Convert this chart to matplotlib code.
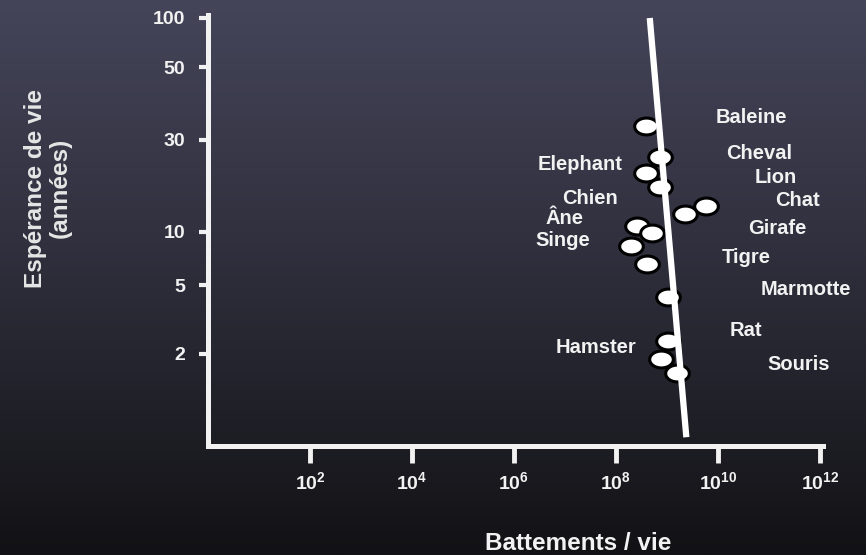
import numpy as np
import matplotlib
matplotlib.use('Agg')
import matplotlib.pyplot as plt
from matplotlib.path import Path
from matplotlib.colors import LinearSegmentedColormap
import matplotlib.ticker as mticker

# data
beats = [3.8e8, 7.4e8, 3.8e8, 7.2e8, 5.8e9, 2.3e9, 2.6e8,
         5.1e8, 2.0e8, 4.0e8, 1.07e9, 1.07e9, 7.8e8, 1.6e9]
life = [33, 24.5, 20.2, 17.1, 13.6, 12.4, 10.7,
        9.9, 8.3, 6.6, 4.26, 2.38, 1.87, 1.55]

# trend line end points
line_x = [4.6e8, 2.4e9]
line_y = [100, 0.66]

animals = ['Baleine', 'Cheval', 'Lion', 'Chat', 'Girafe', 'Tigre', 'Marmotte',
           'Rat', 'Souris', 'Elephant', 'Chien', 'Âne', 'Singe', 'Hamster']
label_xexp = [10.66, 10.81, 11.13, 11.56, 11.16, 10.56, 11.73,
              10.54, 11.59, 7.29, 7.49, 7.0, 6.96, 7.60]
label_y = [35, 25.4, 19.1, 14.5, 10.4, 7.2, 4.74,
           2.72, 1.73, 22.5, 15.0, 11.8, 9.0, 2.17]

xticks = [1e2, 1e4, 1e6, 1e8, 1e10, 1e12]
xticklabels = [r'$\mathbf{10^{%d}}$' % e for e in [2, 4, 6, 8, 10, 12]]
yticks = [2, 5, 10, 30, 50, 100]

# the hand drawn y ruler: log10(value) -> height above the x axis
ruler_log = np.array([-1, 0, 0.301, 0.699, 1, 1.477, 1.699, 2, 3])
ruler_pos = np.array([-133, 40, 92, 161, 214, 306, 379, 428, 591])


def fwd(v):
    v = np.clip(np.asarray(v, dtype=float), 1e-3, None)
    return np.interp(np.log10(v), ruler_log, ruler_pos)


def inv(p):
    return 10 ** np.interp(np.asarray(p, dtype=float), ruler_pos, ruler_log)


FONT = 'Liberation Sans'
plt.rcParams['font.family'] = [FONT, 'DejaVu Sans']
plt.rcParams['mathtext.fontset'] = 'custom'
plt.rcParams['mathtext.bf'] = FONT + ':bold'
plt.rcParams['mathtext.rm'] = FONT

W, H = 866, 555
fig = plt.figure(figsize=(W / 100, H / 100), dpi=100)

# background gradient
bg = fig.add_axes([0, 0, 1, 1], zorder=-10)
cmap = LinearSegmentedColormap.from_list('bg', ['#45455a', '#2d2d3a', '#121215'])
bg.imshow(np.linspace(0, 1, 256).reshape(-1, 1), aspect='auto', cmap=cmap,
          extent=[0, 1, 0, 1])
bg.axis('off')

ax = fig.add_axes([208 / W, (H - 446) / H, (823 - 208) / W, (446 - 15) / H])
ax.patch.set_alpha(0)
ax.set_xscale('log')
ax.set_yscale('function', functions=(fwd, inv))
ax.set_xlim(1, 10 ** 12.06)
ax.set_ylim(inv(0), inv(431))

fg = '#f2f2f2'
for s in ['top', 'right']:
    ax.spines[s].set_visible(False)
for s in ['left', 'bottom']:
    ax.spines[s].set_color(fg)
    ax.spines[s].set_linewidth(3.6)
    ax.spines[s].set_capstyle('projecting')

ax.set_xticks(xticks)
ax.set_xticklabels(xticklabels)
ax.xaxis.set_minor_locator(mticker.NullLocator())
ax.set_yticks(yticks)
ax.set_yticklabels([str(v) for v in yticks])
ax.yaxis.set_minor_locator(mticker.NullLocator())
ax.tick_params(axis='x', colors=fg, length=12, width=3.5, pad=6,
               labelsize=14)
ax.tick_params(axis='y', colors=fg, length=6.5, width=3, pad=10,
               labelsize=14)
for t in ax.get_yticklabels():
    t.set_fontweight('bold')

# elliptical marker
th = np.linspace(0, 2 * np.pi, 60)
ell = Path(np.column_stack([1.4 * np.cos(th), np.sin(th)]), closed=True)
ax.plot(beats, life, linestyle='none', marker=ell, markersize=17,
        markerfacecolor='white', markeredgecolor='black',
        markeredgewidth=2.2, zorder=3, clip_on=False)

ax.plot(line_x, line_y, color='white', linewidth=4.5, zorder=4,
        solid_capstyle='butt', clip_on=False)

for name, xe, yv in zip(animals, label_xexp, label_y):
    ax.text(10 ** xe, yv, name, color=fg, fontsize=14.5, fontweight='bold',
            ha='center', va='center', clip_on=False)

fig.text(48 / W, (H - 188) / H, 'Espérance de vie\n(années)', rotation=90,
         ha='center', va='center', multialignment='center', color='#e6e6e6',
         fontsize=17.5, fontweight='bold', linespacing=1.1)
fig.text(578 / W, (H - 543) / H, 'Battements / vie', ha='center',
         va='center', color='#f2f2f2', fontsize=17.5, fontweight='bold')

fig.savefig('out.png', dpi=100)
